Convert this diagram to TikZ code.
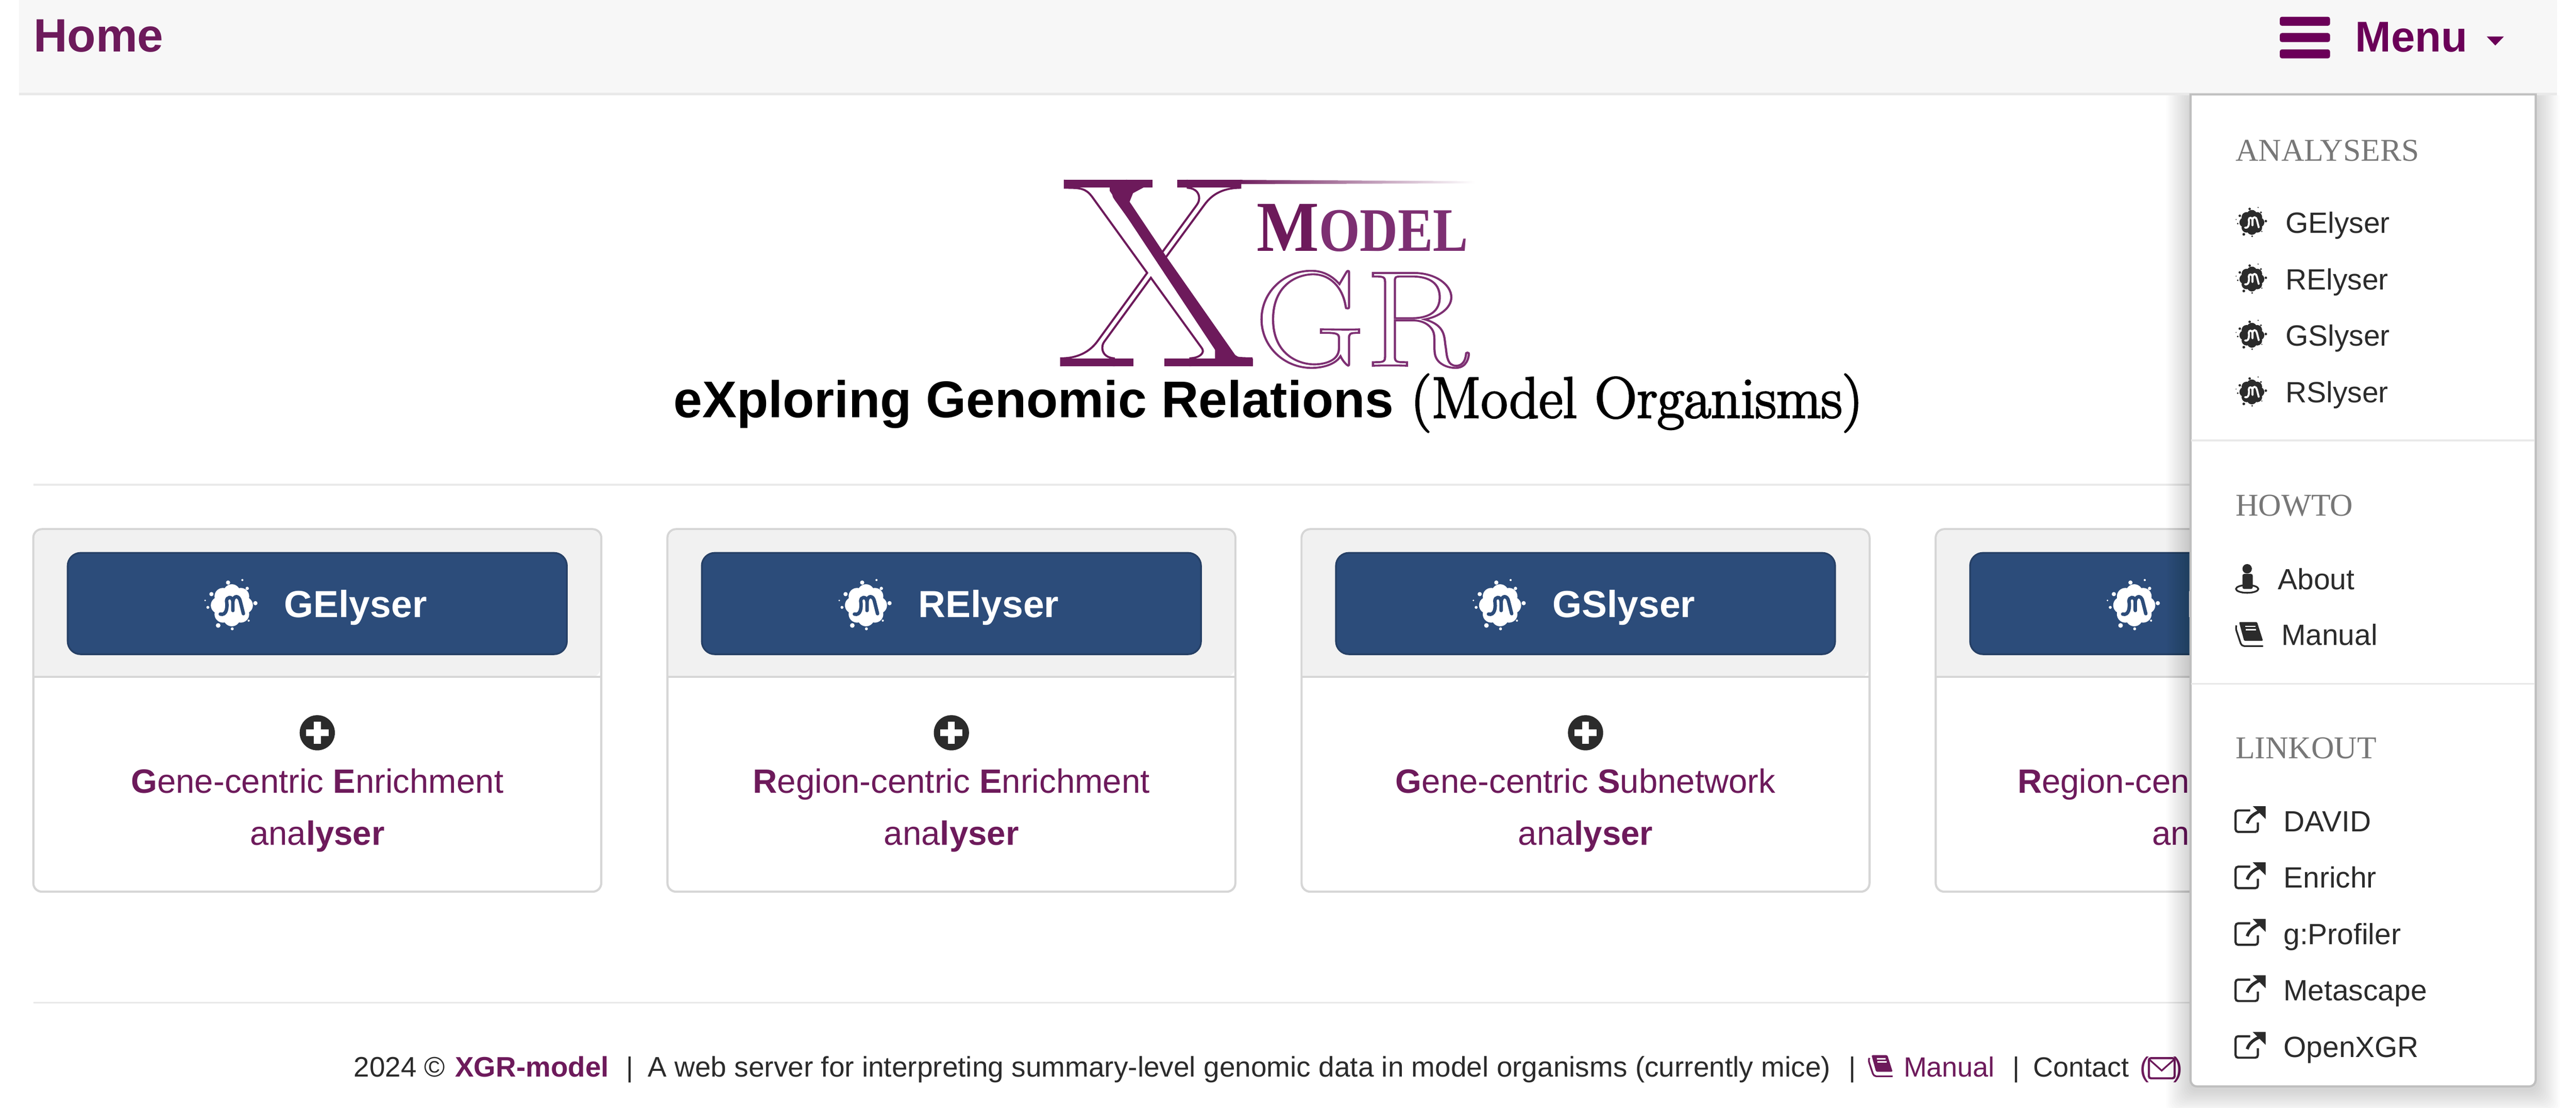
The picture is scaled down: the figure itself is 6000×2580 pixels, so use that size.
\documentclass[tikz,border=0pt]{standalone}
\usepackage{xcolor}
\usepackage{fontspec}
\usepackage{graphicx}
\usepackage{tikz}
\setsansfont{Liberation Sans}
\newfontfamily\headfont{Liberation Serif}
\newcommand{\fsz}[1]{\fontsize{#1}{#1}\selectfont}
\newcommand{\outlined}[2]{\special{pdf:code q 1 Tr #1 w}#2\special{pdf:code 0 Tr Q}}
\newcommand{\heavier}[2]{\special{pdf:code q 2 Tr #1 w}#2\special{pdf:code 0 Tr Q}}
\definecolor{xgrpurple}{HTML}{6D1A5B}
\definecolor{menupurple}{HTML}{6B0058}
\definecolor{grpurple}{HTML}{7D2F72}
\definecolor{navgrey}{HTML}{F7F7F7}
\definecolor{navline}{HTML}{E9E9E9}
\definecolor{cardline}{HTML}{D6D6D6}
\definecolor{cardhead}{HTML}{F1F1F1}
\definecolor{btnblue}{HTML}{2C4C7A}
\definecolor{btnline}{HTML}{264066}
\definecolor{ink}{HTML}{2B2B2B}
\definecolor{headgrey}{HTML}{777777}
\tikzset{
  every node/.style={inner sep=0pt,outer sep=0pt},
  navlink/.style={anchor=base west,font=\sffamily\bfseries\fsz{31},text=xgrpurple},
  menuhead/.style={anchor=base west,font=\headfont\fsz{21},text=headgrey},
  menuitem/.style={anchor=base west,font=\sffamily\fsz{19.4},text=ink},
  btntext/.style={anchor=base west,font=\sffamily\bfseries\fsz{25},text=white},
  cardtext/.style={anchor=base,font=\sffamily\fsz{22.3},text=xgrpurple},
  foot/.style={anchor=base west,font=\sffamily\fsz{18.4},text=ink},
  footlink/.style={foot,text=xgrpurple},
  cardbox/.style={draw=cardline,fill=white,line width=.05cm,rounded corners=.2cm,minimum width=13.22cm,minimum height=8.44cm},
  btnbox/.style={draw=btnline,fill=btnblue,line width=.04cm,rounded corners=.3cm,minimum width=11.62cm,minimum height=2.36cm},
  pics/blot/.style n args={3}{code={
    \fill[#1] (0,0) circle (.75);
    \foreach \a in {0,45,...,315} \fill[#1] (\a:.6) circle (.4);
    \foreach \dx/\dy/\dr in {-.18/-1.08/.1,.5/-1.2/.05,.73/-.8/.08,1.12/-.1/.1,.8/.73/.05,.02/1.12/.07,-.65/.96/.11,-1.14/.1/.07,-1.27/-.23/.04,-.97/-.53/.1}
      \fill[#1] (\dx,\dy) circle (\dr);
    \draw[#2,line width=#3,line cap=round] (-.55,.42) .. controls (-.25,.5) and (-.2,.1) .. (-.25,-.2) .. controls (-.25,-.4) and (0,-.45) .. (.05,-.2) -- (.05,.25);
    \draw[#2,line width=#3,line cap=round] (.05,-.2) .. controls (.1,-.5) and (.35,-.45) .. (.4,-.2) -- (.55,.4);
  }},
  pics/linkicon/.style={code={
    \draw[ink,line width=.05cm,rounded corners=.06cm] (34,10) -- (0,10) -- (0,60) -- (52,60) -- (52,38);
    \fill[ink] (40,0) -- (70,0) -- (70,30) -- cycle;
    \draw[ink,line width=.07cm] (27,40) .. controls (32,25) and (42,18) .. (60,10);
  }},
  pics/bookicon/.style={code={
    \fill[#1,rounded corners=.03cm] (8,0) -- (50,0) -- (64,44) -- (20,44) -- cycle;
    \draw[#1,line width=.04cm,rounded corners=.06cm] (2,8) -- (0,14) -- (14,56) -- (64,56);
    \draw[white,line width=.03cm] (22,10) -- (46,10);
    \draw[white,line width=.03cm] (24,18) -- (48,18);
  }},
}
\begin{document}
\begin{tikzpicture}[x=.01cm,y=-.01cm]
\useasboundingbox (0,0) rectangle (6000,2580);
\fill[white] (0,0) rectangle (6000,2580);

\draw[navline,line width=.04cm] (78,1129) -- (5200,1129);
\draw[navline,line width=.04cm] (78,2336) -- (5200,2336);

\foreach \i/\cx/\btn/\lineone in {
  1/739/GElyser/{\textbf{G}ene-centric \textbf{E}nrichment},
  2/2216/RElyser/{\textbf{R}egion-centric \textbf{E}nrichment},
  3/3693/GSlyser/{\textbf{G}ene-centric \textbf{S}ubnetwork},
  4/5170/RSlyser/{\textbf{R}egion-centric \textbf{S}ubnetwork}}{
  \node[cardbox] (card\i) at (\cx,1655) {};
  \fill[cardhead,rounded corners=.2cm] (\cx-659,1577) -- (\cx-659,1235) -- (\cx+659,1235) -- (\cx+659,1577) [sharp corners] -- cycle;
  \draw[cardline,line width=.05cm] (\cx-661,1577) -- (\cx+661,1577);
  \node[btnbox] (btn\i) at (\cx,1406) {};
  \pic at (\cx-199,1410) [scale=49] {blot={white}{btnblue}{2.3pt}};
  \node[btntext] (btntext\i) at (\cx-77,1438) {\btn};
  \fill[ink] (\cx,1707) circle (41);
  \fill[white] (\cx-26,1699) rectangle (\cx+26,1715);
  \fill[white] (\cx-8,1681) rectangle (\cx+8,1733);
  \node[cardtext] (desc\i) at (\cx,1847) {\lineone};
  \node[cardtext] (ana\i) at (\cx,1968) {ana\textbf{lyser}};
}

\node[foot,font=\sffamily\fsz{18.7}] (year) at (824,2509) {2024 ©};
\node[footlink,font=\sffamily\bfseries\fsz{18.7}] (xgrmodel) at (1060,2509) {XGR-model};
\node[foot] (sepa) at (1458,2509) {|};
\node[foot,font=\sffamily\fsz{18.77}] (serverline) at (1509,2509) {A web server for interpreting summary-level genomic data in model organisms (currently mice)};
\node[foot] (sepb) at (4306,2509) {|};
\pic at (4352,2458) [scale=.88] {bookicon=xgrpurple};
\node[footlink] (manualb) at (4434,2509) {Manual};
\node[foot] (sepc) at (4688,2509) {|};
\node[foot] (contact) at (4736,2509) {Contact};
\node[footlink] (parl) at (4984,2509) {(};
\draw[xgrpurple,line width=.05cm,rounded corners=.05cm] (5005,2465) rectangle (5065,2512);
\draw[xgrpurple,line width=.04cm] (5007,2469) -- (5035,2494) -- (5063,2469);
\node[footlink] (parr) at (5062,2509) {)};

\begin{scope}
\clip (4900,222) rectangle (6000,2580);
\foreach \s in {1,...,14}
  \fill[black,opacity=.013,rounded corners=.2cm] (5102-\s*4,220-\s*4+8) rectangle (5906+\s*4,2531+\s*4+8);
\end{scope}

\fill[navgrey] (44,0) rectangle (5955,216);
\fill[navline] (44,216) rectangle (5955,222);
\node[navlink] (home) at (78,121) {Home};
\fill[menupurple,rounded corners=.05cm] (5310,39) rectangle (5427,60);
\fill[menupurple,rounded corners=.05cm] (5310,77) rectangle (5427,98);
\fill[menupurple,rounded corners=.05cm] (5310,115) rectangle (5427,136);
\node[navlink,text=menupurple,font=\sffamily\bfseries\fsz{28.5}] (menu) at (5486,120) {Menu};
\fill[menupurple] (5792,85) -- (5832,85) -- (5812,106) -- cycle;

\shade[left color=xgrpurple,middle color=xgrpurple!75,right color=white] (2880,419) -- (3435,422) -- (3435,427) -- (2880,429) -- cycle;
\node[anchor=base west,font=\rmfamily\fsz{179},text=xgrpurple,xscale=1.057,transform shape] (logox) at (2463,851) {\outlined{1.3}{X}};
\fill[xgrpurple] (2482,419) rectangle (2684,437);
\fill[xgrpurple] (2742,419) rectangle (2891,437);
\fill[xgrpurple] (2472,835) rectangle (2640,853);
\fill[xgrpurple] (2712,835) rectangle (2918,853);
\fill[xgrpurple] (2585,436) -- (2665,436) -- (2639,450) -- (2631,470) -- (2716,597) -- (2877,827) -- (2895,838) -- (2830,838) -- (2830,815) -- (2585,445) -- cycle;
\node[anchor=base west,font=\headfont\bfseries,text=xgrpurple] (logom) at (2927,585) {\fsz{47.5}\scalebox{.92}[1]{M}\color{grpurple}\fsz{41}\scalebox{.85}[1]{ODEL}};
\node[anchor=base west,font=\rmfamily\fsz{90},text=grpurple,xscale=1.12,transform shape] (logogr) at (2922,852) {\outlined{1.3}{GR}};

\node[anchor=base west,font=\sffamily\bfseries\fsz{34.2},text=black] (titlea) at (1569,973) {eXploring Genomic Relations};
\node[anchor=base west,font=\rmfamily\fsz{38.6},text=black] (titleb) at (3286,973) {\heavier{1}{(Model Organisms)}};

\filldraw[draw=black!25,fill=white,line width=.05cm] [sharp corners] (5102,220) -- (5906,220) [rounded corners=.15cm] -- (5906,2531) -- (5102,2531) [sharp corners] -- cycle;
\draw[navline,line width=.04cm] (5104,1026) -- (5904,1026);
\draw[navline,line width=.04cm] (5104,1593) -- (5904,1593);

\node[menuhead] (heada) at (5207,375) {ANALYSERS};
\node[menuhead] (headb) at (5207,1202) {HOWTO};
\node[menuhead] (headc) at (5207,1767) {LINKOUT};

\foreach \i/\ty/\lab in {1/543/GElyser,2/675/RElyser,3/806/GSlyser,4/938/RSlyser}{
  \pic at (5245,\ty-25) [scale=29] {blot={ink}{white}{1.3pt}};
  \node[menuitem] (item\i) at (5324,\ty) {\lab};
}

\fill[ink] (5234,1325) circle (11);
\fill[ink,rounded corners=.04cm] (5223,1337) rectangle (5247,1372);
\draw[ink,line width=.04cm] (5234,1372) ellipse (26 and 9);
\node[menuitem] (about) at (5306,1373) {About};
\pic at (5207,1449) {bookicon=ink};
\node[menuitem] (manual) at (5314,1503) {Manual};

\foreach \i/\ty/\lab in {1/1937/DAVID,2/2068/Enrichr,3/2200/g:Profiler,4/2331/Metascape,5/2463/OpenXGR}{
  \pic at (5207,\ty-59) {linkicon};
  \node[menuitem] (link\i) at (5319,\ty) {\lab};
}
\end{tikzpicture}
\end{document}
